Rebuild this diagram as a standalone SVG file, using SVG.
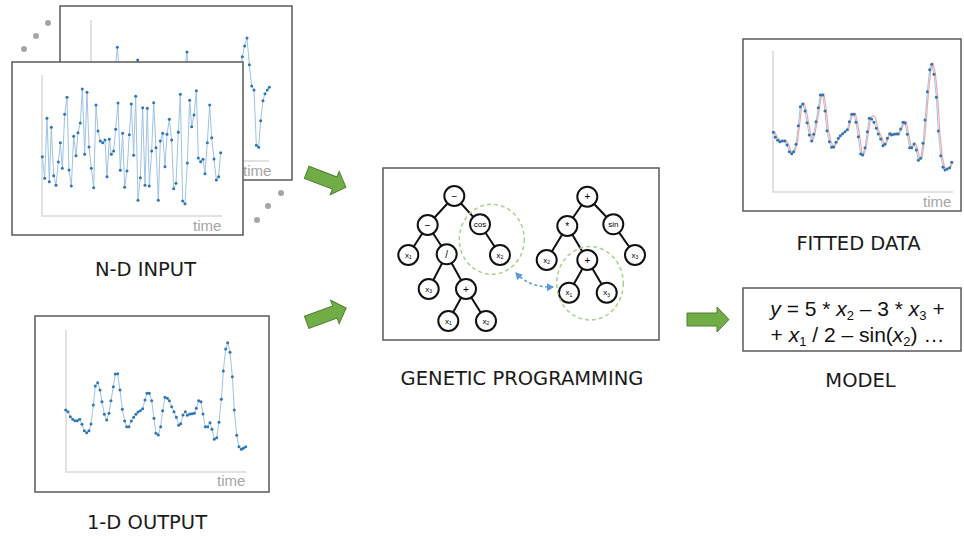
<svg xmlns="http://www.w3.org/2000/svg" width="964" height="539" viewBox="0 0 964 539">
<style>
.box{fill:#fff;stroke:#595959;stroke-width:1.5}
.axis{fill:none;stroke:#d9d9d9;stroke-width:1.5}
.series{fill:none;stroke:#9dc3e6;stroke-width:1;vector-effect:non-scaling-stroke;marker-start:url(#dot);marker-mid:url(#dot);marker-end:url(#dot)}
.fit{fill:none;stroke:#f4a6a6;stroke-width:1.2;vector-effect:non-scaling-stroke}
.time{font-family:"Liberation Sans",Arial,sans-serif;font-size:15px;fill:#a6a6a6}
.label{font-family:"DejaVu Sans",Verdana,sans-serif;font-size:19.5px;fill:#1a1a1a;text-anchor:middle}
.edge{stroke:#111;stroke-width:2;fill:none}
.node circle{fill:#fff;stroke:#111;stroke-width:2}
.node text{font-family:"Liberation Sans",Arial,sans-serif;font-size:8px;fill:#000;text-anchor:middle}
.op{font-size:10px!important}
.sub{font-size:5px}
.gc{fill:none;stroke:#a9d18e;stroke-width:1.5;stroke-dasharray:4 3}
.garrow{fill:#70ad47;stroke:#507e32;stroke-width:1}
.pdot{fill:#a6a6a6}
.eq{font-family:"Liberation Sans",Arial,sans-serif;font-size:21px;fill:#111;text-anchor:middle}
.es{font-size:13px}
</style>
<defs>
<marker id="dot" markerUnits="userSpaceOnUse" markerWidth="12" markerHeight="12" refX="6" refY="6" viewBox="0 0 12 12">
<circle cx="6" cy="6" r="4.5" fill="#2e75b6"/>
</marker>
<marker id="bh" markerUnits="userSpaceOnUse" markerWidth="8" markerHeight="8" refX="6" refY="4" orient="auto-start-reverse" viewBox="0 0 8 8">
<path d="M0,0 L7,4 L0,8 Z" fill="#5b9bd5"/>
</marker>
<path id="garr" d="M0,-6.5 L30,-6.5 L30,-12.5 L42,0 L30,12.5 L30,6.5 L0,6.5 Z"/>
</defs>

<!-- N-D input -->
<g id="nd-input">
<circle class="pdot" cx="24" cy="49" r="3"/>
<circle class="pdot" cx="36" cy="36" r="3"/>
<circle class="pdot" cx="48" cy="23" r="3"/>
<circle class="pdot" cx="257" cy="220" r="3"/>
<circle class="pdot" cx="268" cy="206" r="3"/>
<circle class="pdot" cx="281" cy="193" r="3"/>
<rect class="box" x="60" y="6" width="232" height="174"/>
<path class="axis" d="M91,20 V161 H269"/>
<text class="time" x="243" y="176">time</text>
<g transform="scale(0.33333)">
<polyline class="series" points="280,300 287,420 293,250 300,380 307,460 313,330 320,270 327,410 333,350 340,440 345,210 352,142 359,230 365,390 372,300 379,450 385,360 392,280 399,410 405,230 413,180 419,330 426,440 432,270 439,380 446,310 452,460 459,250 466,350 472,420 479,290 486,400 492,330 499,470 506,260 512,380 519,310 526,440 532,280 539,360 546,420 552,230 561,156 566,250 572,390 579,320 586,450 592,280 599,370 606,300 612,430 619,260 626,380 632,330 639,450 646,290 652,400 659,340 666,260 672,420 679,310 686,380 692,270 699,350 706,430 712,300 720,230 727,170 734,138 741,114 748,194 755,258 762,270 769,436 776,442 782,362 789,302 795,281 802,270 808,262"/>
</g>
<rect class="box" x="12" y="62" width="231" height="173"/>
<path class="axis" d="M42,75 V216 H222"/>
<text class="time" x="193" y="231">time</text>
<g transform="scale(0.33333)">
<polyline class="series" points="127,470 134,535 141,355 148,545 154,382 161,527 168,556 175,486 181,428 187,505 194,343 201,292 207,510 214,558 221,409 228,467 234,398 241,369 247,267 254,463 261,277 267,441 274,505 281,563 288,315 294,393 301,423 308,428 315,420 321,530 328,418 334,463 341,453 347,388 354,309 361,511 368,400 374,562 381,513 388,404 394,312 401,466 407,289 414,601 421,533 428,323 435,556 442,325 448,558 455,453 461,308 468,443 475,601 481,423 488,400 495,500 501,403 508,358 515,420 521,566 528,550 535,397 541,283 548,603 555,611 562,489 569,301 575,380 582,345 589,272 595,474 602,485 609,478 615,521 622,428 629,315 635,413 642,477 649,540 656,530 662,458"/>
</g>
<text class="label" x="145.5" y="276">N-D INPUT</text>
</g>

<!-- 1-D output -->
<g id="output">
<rect class="box" x="35" y="316" width="234" height="176"/>
<path class="axis" d="M66,330 V472 H246"/>
<text class="time" x="217" y="486">time</text>
<g transform="translate(30,310) scale(0.33333)">
<polyline class="series" points="107,300 114,305 121,320 128,328 135,332 142,332 149,328 156,343 163,362 170,368 177,362 183,342 190,285 196,228 203,218 210,240 216,275 223,313 230,330 237,310 243,272 250,230 256,192 263,191 270,240 277,298 284,333 290,350 297,350 304,333 311,322 318,313 324,306 331,302 338,296 345,270 351,250 358,250 365,272 372,325 378,370 385,375 392,350 398,302 405,262 412,265 418,272 425,290 432,305 439,322 446,346 452,341 459,315 466,305 472,316 479,312 486,311 493,310 499,295 506,272 513,275 519,312 526,350 533,350 540,338 546,358 553,388 560,383 567,337 574,268 580,183 587,117 593,98 600,127 607,200 613,300 620,376 627,410 634,418 640,415 647,410"/>
</g>
<text class="label" x="147" y="529">1-D OUTPUT</text>
</g>

<!-- Fitted data -->
<g id="fitted">
<rect class="box" x="743" y="39" width="218" height="172"/>
<path class="axis" d="M773,51 V192 H953"/>
<text class="time" x="923" y="207">time</text>
<g transform="translate(740,35) scale(0.33333)">
<polyline class="fit" transform="translate(4,-3)" points="100,292 106,307 113,316 120,320 127,318 134,318 141,330 148,350 155,356 161,350 168,328 175,272 181,215 188,207 195,228 201,263 208,300 215,318 221,298 228,260 235,218 241,180 248,180 255,228 261,287 268,320 275,337 281,336 288,322 295,310 301,302 308,296 315,290 322,284 328,260 335,238 342,238 348,262 355,305 362,357 368,360 375,338 382,290 388,250 395,245 402,250 409,280 415,297 422,312 429,332 435,328 442,310 449,296 455,300 462,298 469,297 475,297 482,282 489,262 495,264 502,298 509,338 515,338 522,327 529,345 535,376 542,370 549,325 555,255 562,170 569,104 575,88 582,118 589,187 595,288 602,362 609,397 615,405 622,402 629,398 635,382"/>
<polyline class="series" points="100,292 106,307 113,316 120,320 127,318 134,318 141,330 148,350 155,356 161,350 168,328 175,272 181,215 188,207 195,228 201,263 208,300 215,318 221,298 228,260 235,218 241,180 248,180 255,228 261,287 268,320 275,337 281,336 288,322 295,310 301,302 308,296 315,290 322,284 328,260 335,238 342,238 348,262 355,305 362,357 368,360 375,338 382,290 388,250 395,252 402,262 409,280 415,297 422,312 429,332 435,328 442,310 449,296 455,300 462,298 469,297 475,297 482,282 489,262 495,264 502,298 509,338 515,338 522,327 529,345 535,376 542,370 549,325 555,255 562,170 569,104 575,88 582,118 589,187 595,288 602,362 609,397 615,405 622,402 629,398 635,382"/>
</g>
<text class="label" x="858.5" y="250">FITTED DATA</text>
</g>

<!-- Model -->
<g id="model">
<rect class="box" x="743" y="288" width="218" height="63"/>
<text class="eq" x="857.5" y="316"><tspan font-style="italic">y</tspan> = 5 * <tspan font-style="italic">x</tspan><tspan class="es" dy="3.5">2</tspan><tspan dy="-3.5"> – 3 * </tspan><tspan font-style="italic">x</tspan><tspan class="es" dy="3.5">3</tspan><tspan dy="-3.5"> +</tspan></text>
<text class="eq" x="857.5" y="342">+ <tspan font-style="italic">x</tspan><tspan class="es" dy="3.5">1</tspan><tspan dy="-3.5"> / 2 – sin(</tspan><tspan font-style="italic">x</tspan><tspan class="es" dy="3.5">2</tspan><tspan dy="-3.5">) …</tspan></text>
<text class="label" x="860.5" y="387">MODEL</text>
</g>

<!-- Genetic programming -->
<g id="gp">
<rect class="box" x="383" y="168" width="276" height="172"/>
<text class="label" x="522" y="385">GENETIC PROGRAMMING</text>
</g>

<g id="connectors">
<path class="edge" d="M454.3,196 L427.7,225 M454.3,196 L480,224.3 M427.7,225 L408.3,255 M427.7,225 L446.7,254.3 M480,224.3 L500,255 M446.7,254.3 L428.7,289 M446.7,254.3 L466,289 M466,289 L448.3,321 M466,289 L486,321"/>
<path class="edge" d="M587.3,196.7 L567.3,226 M587.3,196.7 L613.3,224.3 M567.3,226 L546.7,260 M567.3,226 L587.3,260 M613.3,224.3 L635,255 M587.3,260 L569,292.7 M587.3,260 L606.7,292.7"/>
<path d="M516,273 Q530,288 553,287" fill="none" stroke="#5b9bd5" stroke-width="1.5" stroke-dasharray="3 2.5" marker-start="url(#bh)" marker-end="url(#bh)"/>
<use href="#garr" class="garrow" transform="translate(306.7,172.3) rotate(21)"/>
<use href="#garr" class="garrow" transform="translate(306.7,322.3) rotate(-20)"/>
<use href="#garr" class="garrow" transform="translate(687,319.5)"/>
</g>

<g id="t1-root" class="node"><circle cx="454.3" cy="196" r="10"/><text class="op" x="454.3" y="199.5">−</text></g>
<g id="t1-minus" class="node"><circle cx="427.7" cy="225" r="10"/><text class="op" x="427.7" y="228.5">−</text></g>
<g id="t1-cos" class="node"><circle cx="480" cy="224.3" r="10"/><text x="480" y="227">cos</text></g>
<g id="t1-x1a" class="node"><circle cx="408.3" cy="255" r="10"/><text x="408.3" y="257.5">x<tspan class="sub" dy="1.5">1</tspan></text></g>
<g id="t1-div" class="node"><circle cx="446.7" cy="254.3" r="10"/><text class="op" x="446.7" y="257.8">/</text></g>
<g id="t1-x2a" class="node"><circle cx="500" cy="255" r="10"/><text x="500" y="257.5">x<tspan class="sub" dy="1.5">2</tspan></text></g>
<g id="t1-x3" class="node"><circle cx="428.7" cy="289" r="10"/><text x="428.7" y="291.5">x<tspan class="sub" dy="1.5">3</tspan></text></g>
<g id="t1-plus" class="node"><circle cx="466" cy="289" r="10"/><text class="op" x="466" y="292.5">+</text></g>
<g id="t1-x1b" class="node"><circle cx="448.3" cy="321" r="10"/><text x="448.3" y="323.5">x<tspan class="sub" dy="1.5">1</tspan></text></g>
<g id="t1-x2b" class="node"><circle cx="486" cy="321" r="10"/><text x="486" y="323.5">x<tspan class="sub" dy="1.5">2</tspan></text></g>

<g id="t2-root" class="node"><circle cx="587.3" cy="196.7" r="10"/><text class="op" x="587.3" y="200.2">+</text></g>
<g id="t2-mul" class="node"><circle cx="567.3" cy="226" r="10"/><text class="op" x="567.3" y="230">*</text></g>
<g id="t2-sin" class="node"><circle cx="613.3" cy="224.3" r="10"/><text x="613.3" y="227">sin</text></g>
<g id="t2-x2" class="node"><circle cx="546.7" cy="260" r="10"/><text x="546.7" y="262.5">x<tspan class="sub" dy="1.5">2</tspan></text></g>
<g id="t2-plus" class="node"><circle cx="587.3" cy="260" r="10"/><text class="op" x="587.3" y="263.5">+</text></g>
<g id="t2-x3a" class="node"><circle cx="635" cy="255" r="10"/><text x="635" y="257.5">x<tspan class="sub" dy="1.5">3</tspan></text></g>
<g id="t2-x1" class="node"><circle cx="569" cy="292.7" r="10"/><text x="569" y="295.2">x<tspan class="sub" dy="1.5">1</tspan></text></g>
<g id="t2-x3b" class="node"><circle cx="606.7" cy="292.7" r="10"/><text x="606.7" y="295.2">x<tspan class="sub" dy="1.5">3</tspan></text></g>

<g id="crossover">
<ellipse class="gc" cx="491.8" cy="239.3" rx="32.5" ry="35"/>
<ellipse class="gc" cx="590" cy="283.3" rx="33.3" ry="36.7"/>
</g>
</svg>
